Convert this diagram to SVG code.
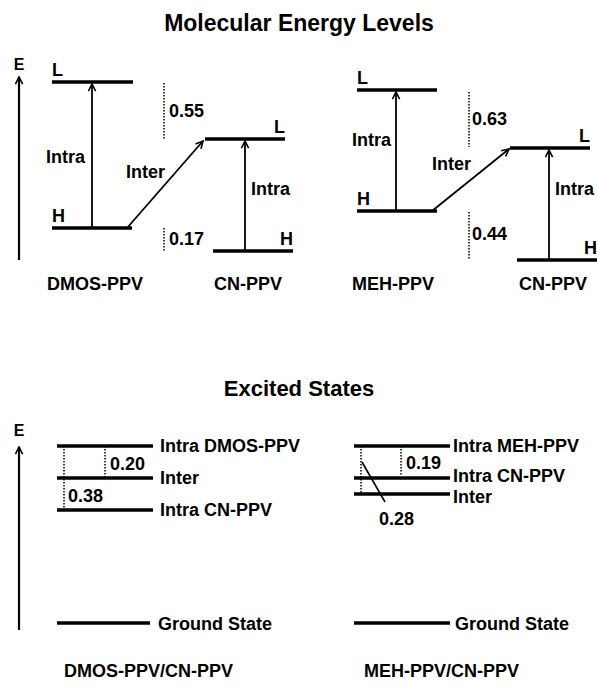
<svg xmlns="http://www.w3.org/2000/svg" width="597" height="688" viewBox="0 0 597 688">
<style>
text{font-family:"Liberation Sans",Arial,sans-serif;font-weight:bold;fill:#000}
.t{font-size:23px;text-anchor:middle}
.t2{font-size:22px;text-anchor:middle}
.l{font-size:18px}
.e{font-size:16px;text-anchor:middle}
.end{text-anchor:end}
.lvl{stroke:#000;stroke-width:3.5;fill:none}
.arr{stroke:#000;stroke-width:1.8;fill:none;marker-end:url(#ah)}
.ax{stroke:#000;stroke-width:2.2;fill:none;marker-end:url(#ah)}
.dot{stroke:#000;stroke-width:1.5;stroke-dasharray:1.5 1.5;fill:none}
.thin{stroke:#000;stroke-width:1.6;fill:none}
</style>
<defs>
<marker id="ah" viewBox="0 0 10 10" refX="9" refY="5" markerWidth="9" markerHeight="9" markerUnits="userSpaceOnUse" orient="auto">
<path d="M1,1 L9,5 L1,9" fill="none" stroke="#000" stroke-width="1.8"/>
</marker>
</defs>
<rect width="597" height="688" fill="#fff"/>
<text class="t" x="299" y="31">Molecular Energy Levels</text>
<text class="t2" x="299" y="396">Excited States</text>

<g id="axis-top"><text class="e" x="19" y="70">E</text><line class="ax" x1="19" y1="260" x2="19" y2="77"/></g>
<g id="axis-bottom"><text class="e" x="19" y="436">E</text><line class="ax" x1="19" y1="630" x2="19" y2="447"/></g>

<g id="dmos-L"><line class="lvl" x1="52" y1="82" x2="133" y2="82"/><text class="l" x="52" y="76">L</text></g>
<g id="dmos-H"><line class="lvl" x1="52" y1="228" x2="132" y2="228"/><text class="l" x="52" y="222">H</text></g>
<g id="cn1-L"><line class="lvl" x1="205" y1="139" x2="285" y2="139"/><text class="l end" x="285" y="133">L</text></g>
<g id="cn1-H"><line class="lvl" x1="213" y1="251" x2="293" y2="251"/><text class="l end" x="293" y="245">H</text></g>
<g id="lbl-dmos"><text class="l" x="47" y="290">DMOS-PPV</text></g>
<g id="lbl-cn1"><text class="l" x="214" y="290">CN-PPV</text></g>

<g id="meh-L"><line class="lvl" x1="357" y1="90" x2="437" y2="90"/><text class="l" x="357" y="84">L</text></g>
<g id="meh-H"><line class="lvl" x1="357" y1="211" x2="437" y2="211"/><text class="l" x="357" y="205">H</text></g>
<g id="cn2-L"><line class="lvl" x1="510" y1="148" x2="590" y2="148"/><text class="l end" x="590" y="142">L</text></g>
<g id="cn2-H"><line class="lvl" x1="517" y1="260" x2="597" y2="260"/><text class="l end" x="597" y="254">H</text></g>
<g id="lbl-meh"><text class="l" x="352" y="290">MEH-PPV</text></g>
<g id="lbl-cn2"><text class="l" x="519" y="290">CN-PPV</text></g>

<g id="ex1-intra-dmos"><line class="lvl" x1="57" y1="446" x2="153" y2="446"/><text class="l" x="160" y="452">Intra DMOS-PPV</text></g>
<g id="ex1-inter"><line class="lvl" x1="57" y1="478" x2="153" y2="478"/><text class="l" x="160" y="484">Inter</text></g>
<g id="ex1-intra-cn"><line class="lvl" x1="57" y1="510" x2="153" y2="510"/><text class="l" x="160" y="516">Intra CN-PPV</text></g>
<g id="ex1-ground"><line class="lvl" x1="57" y1="623" x2="150" y2="623"/><text class="l" x="158" y="630">Ground State</text></g>
<g id="lbl-ex1"><text class="l" x="64" y="677">DMOS-PPV/CN-PPV</text></g>

<g id="ex2-intra-meh"><line class="lvl" x1="354" y1="446" x2="450" y2="446"/><text class="l" x="453" y="452">Intra MEH-PPV</text></g>
<g id="ex2-intra-cn"><line class="lvl" x1="354" y1="478" x2="450" y2="478"/><text class="l" x="453" y="482">Intra CN-PPV</text></g>
<g id="ex2-inter"><line class="lvl" x1="354" y1="494" x2="450" y2="494"/><text class="l" x="453" y="503">Inter</text></g>
<g id="ex2-ground"><line class="lvl" x1="354" y1="623" x2="450" y2="623"/><text class="l" x="455" y="630">Ground State</text></g>
<g id="lbl-ex2"><text class="l" x="364" y="677">MEH-PPV/CN-PPV</text></g>

<g id="connectors">
<line class="arr" x1="92" y1="228" x2="92" y2="84"/>
<line class="arr" x1="127" y1="228" x2="203" y2="141"/>
<line class="arr" x1="245" y1="251" x2="245" y2="141"/>
<line class="arr" x1="396" y1="211" x2="396" y2="92"/>
<line class="arr" x1="432" y1="211" x2="509" y2="149"/>
<line class="arr" x1="549" y1="260" x2="549" y2="150"/>
<line class="dot" x1="164" y1="83" x2="164" y2="139"/>
<line class="dot" x1="164" y1="228" x2="164" y2="252"/>
<line class="dot" x1="469" y1="92" x2="469" y2="147"/>
<line class="dot" x1="469" y1="212" x2="469" y2="260"/>
<line class="dot" x1="64" y1="446" x2="64" y2="510"/>
<line class="dot" x1="105" y1="446" x2="105" y2="477"/>
<line class="dot" x1="361" y1="446" x2="361" y2="494"/>
<line class="dot" x1="401" y1="446" x2="401" y2="476"/>
<line class="thin" x1="362" y1="462" x2="385" y2="502"/>
</g>
<g id="values">
<text class="l" x="46" y="163">Intra</text>
<text class="l" x="126" y="178">Inter</text>
<text class="l" x="251" y="195">Intra</text>
<text class="l" x="352" y="146">Intra</text>
<text class="l" x="432" y="170">Inter</text>
<text class="l" x="555" y="195">Intra</text>
<text class="l" x="169" y="117">0.55</text>
<text class="l" x="169" y="245">0.17</text>
<text class="l" x="472" y="125">0.63</text>
<text class="l" x="472" y="240">0.44</text>
<text class="l" x="110" y="470">0.20</text>
<text class="l" x="68" y="502">0.38</text>
<text class="l" x="406" y="469">0.19</text>
<text class="l" x="379" y="525">0.28</text>
</g>
</svg>
